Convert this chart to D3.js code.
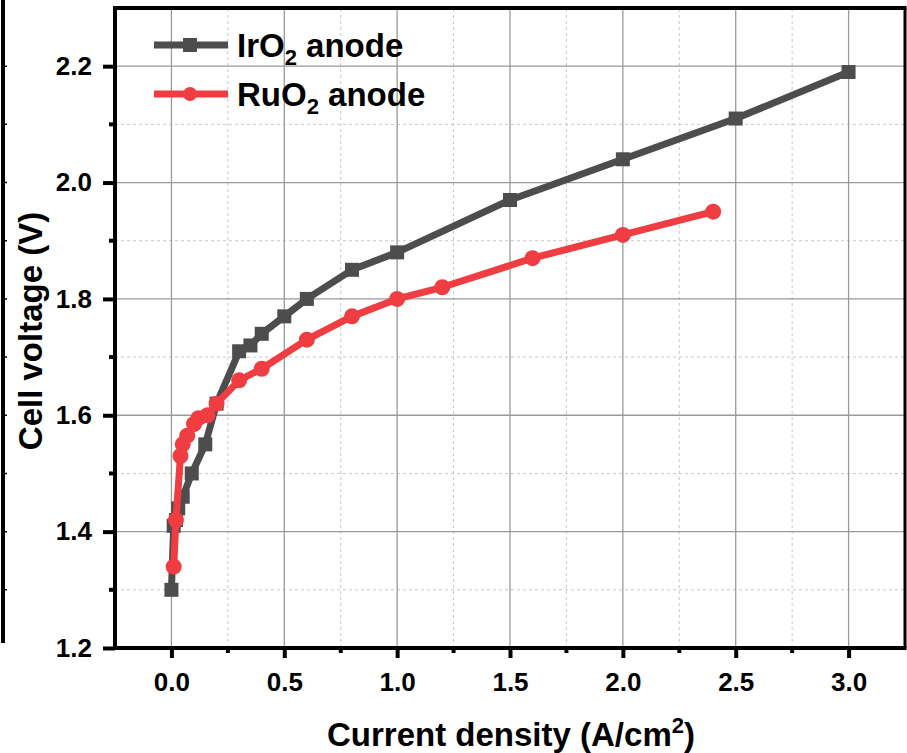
<!DOCTYPE html>
<html>
<head>
<meta charset="utf-8">
<script src="https://cdn.jsdelivr.net/npm/d3@7"></script>
<style>
  body { margin: 0; background: #fff; }
  svg { display: block; }
  text { font-family: "Liberation Sans", Arial, sans-serif; font-weight: bold; fill: #000; }
</style>
</head>
<body>
<svg id="chart" width="907" height="753"></svg>
<script>
// Current density (A/cm2) vs cell voltage (V)
var iro2Current = [0, 0.01, 0.02, 0.03, 0.05, 0.09, 0.15, 0.2, 0.3, 0.35, 0.4, 0.5, 0.6, 0.8, 1.0, 1.5, 2.0, 2.5, 3.0];
var iro2Voltage = [1.30, 1.41, 1.42, 1.44, 1.46, 1.50, 1.55, 1.62, 1.71, 1.72, 1.74, 1.77, 1.80, 1.85, 1.88, 1.97, 2.04, 2.11, 2.19];

var ruo2Current = [0.01, 0.02, 0.04, 0.05, 0.07, 0.1, 0.12, 0.16, 0.2, 0.3, 0.4, 0.6, 0.8, 1.0, 1.2, 1.6, 2.0, 2.4];
var ruo2Voltage = [1.34, 1.42, 1.53, 1.55, 1.565, 1.585, 1.595, 1.60, 1.62, 1.66, 1.68, 1.73, 1.77, 1.80, 1.82, 1.87, 1.91, 1.95];

var xTicks = [0, 0.5, 1.0, 1.5, 2.0, 2.5, 3.0];
var xMinorTicks = [-0.25, 0.25, 0.75, 1.25, 1.75, 2.25, 2.75, 3.25];
var yTicks = [1.2, 1.4, 1.6, 1.8, 2.0, 2.2];
var yMinorTicks = [1.3, 1.5, 1.7, 1.9, 2.1, 2.3];

var seriesNames = ['IrO', 'RuO'];
var seriesColors = ['#4d4d4d', '#ef3d42'];

var margin = { left: 115, top: 8, right: 2, bottom: 105 };
var width = 907, height = 753;

var svg = d3.select('#chart');

var x = d3.scaleLinear().domain([-0.25, 3.25]).range([margin.left, width - margin.right]);
var y = d3.scaleLinear().domain([1.2, 2.3]).range([height - margin.bottom, margin.top]);

// Minor grid (dashed)
var grid = svg.append('g');
grid.selectAll('line.vminor')
  .data(xMinorTicks.filter(function(d) { return d > -0.25 && d < 3.25; }))
  .enter().append('line')
  .attr('x1', function(d) { return x(d); }).attr('x2', function(d) { return x(d); })
  .attr('y1', y(1.2)).attr('y2', y(2.3))
  .attr('stroke', '#c8c8c8').attr('stroke-width', 1).attr('stroke-dasharray', '3,3');
grid.selectAll('line.hminor')
  .data(yMinorTicks.filter(function(d) { return d < 2.3; }))
  .enter().append('line')
  .attr('x1', x(-0.25)).attr('x2', x(3.25))
  .attr('y1', function(d) { return y(d); }).attr('y2', function(d) { return y(d); })
  .attr('stroke', '#c8c8c8').attr('stroke-width', 1).attr('stroke-dasharray', '3,3');

// Major grid (solid)
grid.selectAll('line.vmajor')
  .data(xTicks)
  .enter().append('line')
  .attr('x1', function(d) { return x(d); }).attr('x2', function(d) { return x(d); })
  .attr('y1', y(1.2)).attr('y2', y(2.3))
  .attr('stroke', '#9a9a9a').attr('stroke-width', 1.3);
grid.selectAll('line.hmajor')
  .data(yTicks.filter(function(d) { return d > 1.2; }))
  .enter().append('line')
  .attr('x1', x(-0.25)).attr('x2', x(3.25))
  .attr('y1', function(d) { return y(d); }).attr('y2', function(d) { return y(d); })
  .attr('stroke', '#9a9a9a').attr('stroke-width', 1.3);

// Frame top / right
svg.append('line').attr('x1', x(-0.25)).attr('x2', x(3.25) + 1.5)
  .attr('y1', y(2.3)).attr('y2', y(2.3)).attr('stroke', '#000').attr('stroke-width', 4);
svg.append('line').attr('x1', x(3.25)).attr('x2', x(3.25))
  .attr('y1', y(2.3)).attr('y2', y(1.2)).attr('stroke', '#000').attr('stroke-width', 3);

// Axes
var xAxis = d3.axisBottom(x).tickValues(xTicks).tickSize(10).tickPadding(15)
  .tickFormat(d3.format('.1f'));
var yAxis = d3.axisLeft(y).tickValues(yTicks).tickSize(12).tickPadding(11)
  .tickFormat(d3.format('.1f'));

var gx = svg.append('g').attr('transform', 'translate(0,' + y(1.2) + ')').call(xAxis);
var gy = svg.append('g').attr('transform', 'translate(' + x(-0.25) + ',0)').call(yAxis);

[gx, gy].forEach(function(g) {
  g.select('.domain').remove();
  g.selectAll('.tick line').attr('stroke', '#000').attr('stroke-width', 4);
  g.selectAll('.tick text').style('font-size', '26px');
});

// Minor ticks
svg.append('g').selectAll('line')
  .data(xMinorTicks.filter(function(d) { return d > -0.25 && d < 3.25; }))
  .enter().append('line')
  .attr('x1', function(d) { return x(d); }).attr('x2', function(d) { return x(d); })
  .attr('y1', y(1.2)).attr('y2', y(1.2) + 5)
  .attr('stroke', '#000').attr('stroke-width', 4);
svg.append('g').selectAll('line')
  .data(yMinorTicks.filter(function(d) { return d < 2.3; }))
  .enter().append('line')
  .attr('x1', x(-0.25)).attr('x2', x(-0.25) - 6)
  .attr('y1', function(d) { return y(d); }).attr('y2', function(d) { return y(d); })
  .attr('stroke', '#000').attr('stroke-width', 4);

// Axis lines
svg.append('line').attr('x1', x(-0.25)).attr('x2', x(-0.25))
  .attr('y1', y(2.3) - 2).attr('y2', y(1.2) + 2).attr('stroke', '#000').attr('stroke-width', 4);
svg.append('line').attr('x1', x(-0.25) - 2).attr('x2', x(3.25) + 1.5)
  .attr('y1', y(1.2)).attr('y2', y(1.2)).attr('stroke', '#000').attr('stroke-width', 4);

// Leftover edge of neighbouring panel
svg.append('line').attr('x1', 3).attr('x2', 3).attr('y1', 0).attr('y2', 643)
  .attr('stroke', '#000').attr('stroke-width', 4);
svg.append('g').selectAll('line')
  .data(yTicks.concat(yMinorTicks).filter(function(d) { return d > 1.2 && d < 2.3; }))
  .enter().append('line')
  .attr('x1', 5).attr('x2', 7)
  .attr('y1', function(d) { return y(d); }).attr('y2', function(d) { return y(d); })
  .attr('stroke', '#000').attr('stroke-width', 1.5);

// Series
var line = d3.line().x(function(d) { return x(d[0]); }).y(function(d) { return y(d[1]); });

var iro2 = d3.zip(iro2Current, iro2Voltage);
var ruo2 = d3.zip(ruo2Current, ruo2Voltage);

var plot = svg.append('g');
plot.append('path').datum(iro2).attr('d', line)
  .attr('fill', 'none').attr('stroke', seriesColors[0]).attr('stroke-width', 7)
  .attr('stroke-linejoin', 'round');
plot.selectAll('rect.iro2').data(iro2).enter().append('rect')
  .attr('x', function(d) { return x(d[0]) - 7; })
  .attr('y', function(d) { return y(d[1]) - 7; })
  .attr('width', 14).attr('height', 14)
  .attr('fill', seriesColors[0]);

plot.append('path').datum(ruo2).attr('d', line)
  .attr('fill', 'none').attr('stroke', seriesColors[1]).attr('stroke-width', 7)
  .attr('stroke-linejoin', 'round');
plot.selectAll('circle.ruo2').data(ruo2).enter().append('circle')
  .attr('cx', function(d) { return x(d[0]); })
  .attr('cy', function(d) { return y(d[1]); })
  .attr('r', 8)
  .attr('fill', seriesColors[1]);

// Legend
var legend = svg.append('g');
var legendY = [45, 94];
seriesNames.forEach(function(name, i) {
  var g = legend.append('g').attr('transform', 'translate(0,' + legendY[i] + ')');
  g.append('line').attr('x1', 154).attr('x2', 228).attr('y1', 0).attr('y2', 0)
    .attr('stroke', seriesColors[i]).attr('stroke-width', 7);
  if (i === 0) {
    g.append('rect').attr('x', 183).attr('y', -7).attr('width', 14).attr('height', 14)
      .attr('fill', seriesColors[i]);
  } else {
    g.append('circle').attr('cx', 190).attr('cy', 0).attr('r', 7).attr('fill', seriesColors[i]);
  }
  var t = g.append('text').attr('x', 237).attr('y', 12).style('font-size', '33px');
  t.append('tspan').text(name);
  t.append('tspan').attr('dy', 8).style('font-size', '22px').text('2');
  t.append('tspan').attr('dy', -8).text(' anode');
});

// Axis titles
var xt = svg.append('text').attr('x', 511).attr('y', 746)
  .attr('text-anchor', 'middle').style('font-size', '33px');
xt.append('tspan').text('Current density (A/cm');
xt.append('tspan').attr('dy', -13).style('font-size', '22px').text('2');
xt.append('tspan').attr('dy', 13).text(')');

svg.append('text')
  .attr('transform', 'translate(42,' + 331 + ') rotate(-90)')
  .attr('text-anchor', 'middle').style('font-size', '33px')
  .text('Cell voltage (V)');
</script>
</body>
</html>
